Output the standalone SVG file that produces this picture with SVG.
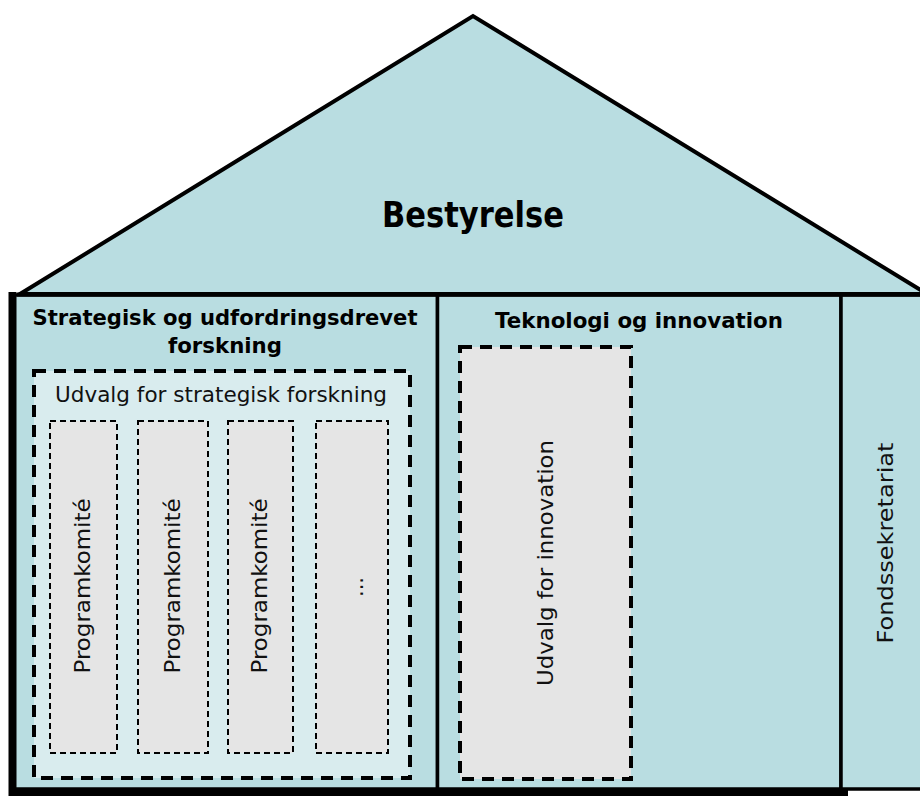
<svg xmlns="http://www.w3.org/2000/svg" width="920" height="796" viewBox="0 0 920 796">
  <defs>
    <style>
      .panel { fill: #b9dde1; stroke: #000; stroke-width: 3.5; }
      .title { font-family: "DejaVu Sans", Verdana, sans-serif; font-weight: bold; fill: #000; text-anchor: middle; }
      .lbl { font-family: "DejaVu Sans", Verdana, sans-serif; fill: #111; text-anchor: middle; font-size: 21px; }
      .big-dash { stroke: #000; stroke-width: 4; stroke-dasharray: 12 8; }
      .small-dash { fill: #e5e5e5; stroke: #000; stroke-width: 2; stroke-dasharray: 6 4; }
    </style>
  </defs>
  <rect width="920" height="796" fill="#ffffff"/>

  <g id="bestyrelse">
    <polygon points="20,294 473,16 927,294" fill="#b9dde1" stroke="#000" stroke-width="4" stroke-linejoin="miter"/>
    <text class="title" x="473" y="227" font-size="35" textLength="182" lengthAdjust="spacingAndGlyphs">Bestyrelse</text>
  </g>

  <g id="strategisk">
    <rect class="panel" x="13" y="295" width="424.5" height="494"/>
    <text class="title" x="225" y="324.5" font-size="21.5" textLength="385" lengthAdjust="spacingAndGlyphs">Strategisk og udfordringsdrevet</text>
    <text class="title" x="225" y="353" font-size="21.5" textLength="114" lengthAdjust="spacingAndGlyphs">forskning</text>
  </g>

  <g id="teknologi">
    <rect class="panel" x="437.5" y="295" width="403.5" height="494"/>
    <text class="title" x="639" y="328" font-size="21.5" textLength="288" lengthAdjust="spacingAndGlyphs">Teknologi og innovation</text>
  </g>

  <g id="fondssekretariat">
    <rect class="panel" x="841" y="295" width="90" height="494"/>
    <text class="lbl" transform="translate(893,543) rotate(-90)" textLength="201" lengthAdjust="spacingAndGlyphs">Fondssekretariat</text>
  </g>

  <g id="house-outline">
    <path d="M12.5,292 V792.5 H848" fill="none" stroke="#000" stroke-width="8" stroke-linejoin="miter"/>
    <line x1="17" y1="294.5" x2="920" y2="294.5" stroke="#000" stroke-width="4"/>
  </g>

  <g id="udvalg-strategisk">
    <rect class="big-dash" x="34" y="371" width="376" height="407" fill="#d9ecee"/>
    <text class="lbl" x="221" y="402" textLength="332" lengthAdjust="spacingAndGlyphs">Udvalg for strategisk forskning</text>
  </g>

  <g id="programkomite-1">
    <rect class="small-dash" x="50" y="421" width="67" height="332"/>
    <text class="lbl" transform="translate(90,586) rotate(-90)" font-size="20.5" textLength="175" lengthAdjust="spacingAndGlyphs">Programkomité</text>
  </g>
  <g id="programkomite-2">
    <rect class="small-dash" x="138" y="421" width="70" height="332"/>
    <text class="lbl" transform="translate(180,586) rotate(-90)" font-size="20.5" textLength="175" lengthAdjust="spacingAndGlyphs">Programkomité</text>
  </g>
  <g id="programkomite-3">
    <rect class="small-dash" x="228" y="421" width="65" height="332"/>
    <text class="lbl" transform="translate(267,586) rotate(-90)" font-size="20.5" textLength="175" lengthAdjust="spacingAndGlyphs">Programkomité</text>
  </g>
  <g id="programkomite-more">
    <rect class="small-dash" x="316" y="421" width="72" height="332"/>
    <text class="lbl" transform="translate(363,587) rotate(-90)" font-size="19">...</text>
  </g>

  <g id="udvalg-innovation">
    <rect class="big-dash" x="460" y="347" width="171" height="432" fill="#e5e5e5"/>
    <text class="lbl" transform="translate(553,563) rotate(-90)" textLength="246" lengthAdjust="spacingAndGlyphs">Udvalg for innovation</text>
  </g>
</svg>
